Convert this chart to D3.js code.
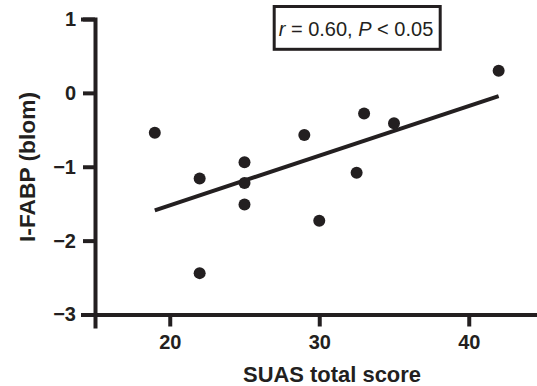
<!DOCTYPE html>
<html>
<head>
<meta charset="utf-8">
<script src="https://cdn.jsdelivr.net/npm/d3@7"></script>
<style>
  body { margin: 0; background: #fff; }
  text { font-family: "Liberation Sans", Arial, sans-serif; fill: #231f20; }
</style>
</head>
<body>
<div id="chart"></div>
<script>
const width = 537;
const height = 386;
const ink = '#231f20';

// SUAS total score vs I-FABP (blom)
const suas = [19, 22, 22, 25, 25, 25, 29, 30, 32.5, 33, 35, 42];
const ifabp = [-0.54, -1.16, -2.44, -0.94, -1.22, -1.51, -0.57, -1.73, -1.08, -0.28, -0.41, 0.30];
const xTicks = [20, 30, 40];
const yTicks = [1, 0, -1, -2, -3];
const statLabel = ['r', ' = 0.60, ', 'P', ' < 0.05'];

const points = suas.map((s, i) => ({x: s, y: ifabp[i]}));

const x = d3.scaleLinear().domain([15, 45]).range([95, 95 + 30 * 14.95]);
const y = d3.scaleLinear().domain([-3, 1]).range([314.5, 19]);

const svg = d3.select('#chart')
  .append('svg')
  .attr('width', width)
  .attr('height', height);

// least squares fit over the plotted points
const mx = d3.mean(points, d => d.x);
const my = d3.mean(points, d => d.y);
const slope = d3.sum(points, d => (d.x - mx) * (d.y - my)) / d3.sum(points, d => (d.x - mx) ** 2);
const fit = d3.extent(suas).map(v => ({x: v, y: my + slope * (v - mx)}));

const xAxis = svg.append('g')
  .attr('transform', `translate(0, ${y(-3)})`)
  .call(d3.axisBottom(x).tickValues(xTicks).tickSizeOuter(0).tickSize(12).tickPadding(8));

const yAxis = svg.append('g')
  .attr('transform', `translate(${x(15)}, 0)`)
  .call(d3.axisLeft(y).tickValues(yTicks).tickFormat(d3.format('d')).tickSizeOuter(0).tickSize(12).tickPadding(7));

[xAxis, yAxis].forEach(g => {
  g.select('.domain').attr('stroke', ink).attr('stroke-width', 4).attr('stroke-linecap', 'square');
  g.selectAll('.tick line').attr('stroke', ink).attr('stroke-width', 4);
  g.selectAll('.tick text')
    .style('font-size', '20px')
    .style('font-weight', 'bold')
    .attr('fill', ink);
});

svg.append('path')
  .datum(fit)
  .attr('d', d3.line().x(d => x(d.x)).y(d => y(d.y)))
  .attr('stroke', ink)
  .attr('stroke-width', 4)
  .attr('fill', 'none');

svg.selectAll('circle')
  .data(points)
  .enter()
  .append('circle')
  .attr('cx', d => x(d.x))
  .attr('cy', d => y(d.y))
  .attr('r', 6)
  .attr('fill', ink);

// stats box
svg.append('rect')
  .attr('x', 274.2)
  .attr('y', 6.5)
  .attr('width', 166)
  .attr('height', 42.8)
  .attr('fill', '#fff')
  .attr('stroke', ink)
  .attr('stroke-width', 3);

svg.append('text')
  .attr('x', 356)
  .attr('y', 35.5)
  .attr('text-anchor', 'middle')
  .style('font-size', '20px')
  .selectAll('tspan')
  .data(statLabel)
  .enter()
  .append('tspan')
  .style('font-style', (d, i) => i % 2 === 0 ? 'italic' : 'normal')
  .text(d => d);

svg.append('text')
  .attr('x', 332)
  .attr('y', 381.5)
  .attr('text-anchor', 'middle')
  .attr('textLength', 178)
  .attr('lengthAdjust', 'spacingAndGlyphs')
  .style('font-size', '22px')
  .style('font-weight', 'bold')
  .text('SUAS total score');

svg.append('text')
  .attr('transform', 'translate(35, 167) rotate(-90)')
  .attr('text-anchor', 'middle')
  .attr('textLength', 150)
  .attr('lengthAdjust', 'spacingAndGlyphs')
  .style('font-size', '22px')
  .style('font-weight', 'bold')
  .text('I-FABP (blom)');
</script>
</body>
</html>
